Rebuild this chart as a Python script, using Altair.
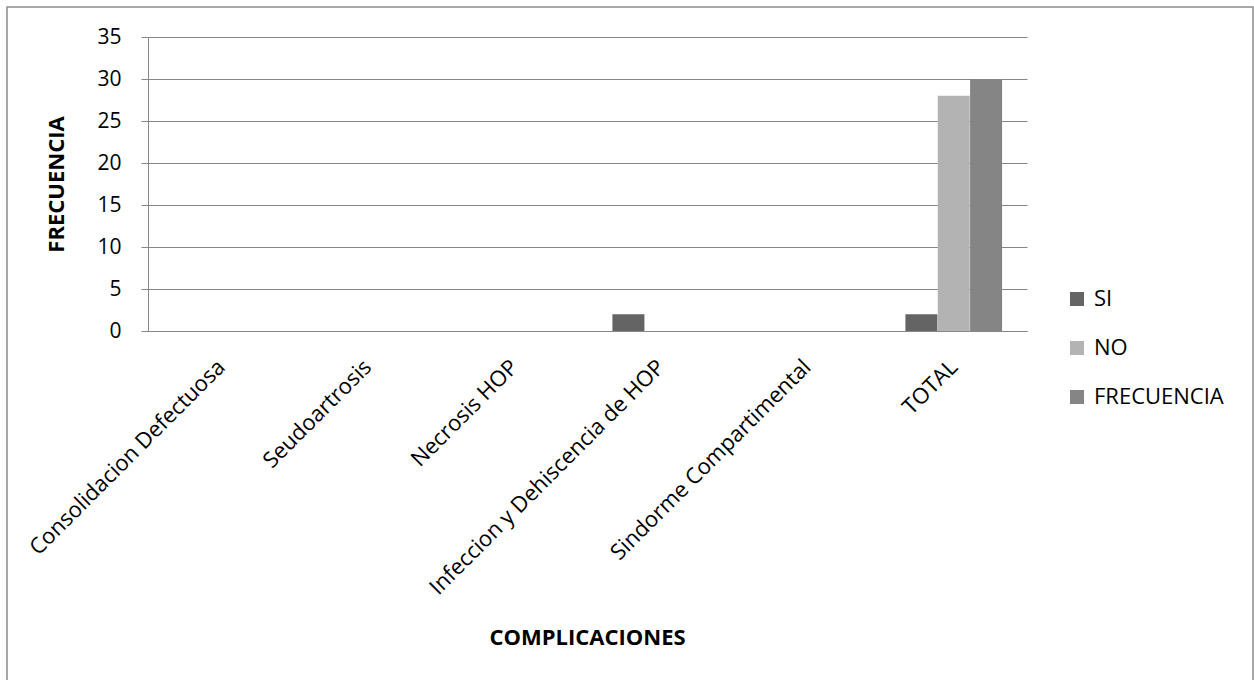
import altair as alt
import pandas as pd

# Complications and the three series shown per complication
categories = [
    "Consolidacion Defectuosa",
    "Seudoartrosis",
    "Necrosis HOP",
    "Infeccion y Dehiscencia de HOP",
    "Sindorme Compartimental",
    "TOTAL",
]
series = ["SI", "NO", "FRECUENCIA"]
si_values = [0, 0, 0, 2, 0, 2]
no_values = [0, 0, 0, 0, 0, 28]
frecuencia_values = [0, 0, 0, 0, 0, 30]
series_colors = ["#646464", "#b3b3b3", "#858585"]
y_ticks = [0, 5, 10, 15, 20, 25, 30, 35]

rows = []
for name, vals in zip(series, [si_values, no_values, frecuencia_values]):
    for cat, v in zip(categories, vals):
        rows.append({"complicacion": cat, "serie": name, "valor": v})
df = pd.DataFrame(rows)

FONT = "Open Sans"
GRID = "#878787"

bars = alt.Chart(df).mark_bar(size=32).encode(
    x=alt.X(
        "complicacion:N",
        sort=categories,
        scale=alt.Scale(paddingInner=0.338, paddingOuter=0.169),
        axis=alt.Axis(
            title="COMPLICACIONES",
            titleFont=FONT,
            titleFontSize=22,
            titleFontWeight="bold",
            titleColor="#000000",
            titleX=439,
            titleY=306,
            titleBaseline="middle",
            titleAlign="center",
            labelAngle=-45,
            labelAlign="right",
            labelBaseline="top",
            labelPadding=25,
            labelOffset=-7,
            labelFont=FONT,
            labelFontSize=22,
            labelColor="#000000",
            labelOverlap=False,
            labelLimit=0,
            ticks=False,
            domainColor=GRID,
            domainWidth=1,
        ),
    ),
    xOffset=alt.XOffset("serie:N", sort=series, scale=alt.Scale(paddingInner=0, paddingOuter=0)),
    y=alt.Y(
        "valor:Q",
        scale=alt.Scale(domain=[0, 35], nice=False),
        axis=alt.Axis(
            values=y_ticks,
            title="FRECUENCIA",
            titleFont=FONT,
            titleFontSize=22,
            titleFontWeight="bold",
            titleColor="#000000",
            titleAngle=270,
            titleX=-92,
            titleY=147,
            titleAlign="center",
            titleBaseline="middle",
            labelFont=FONT,
            labelFontSize=21,
            labelColor="#000000",
            labelPadding=20,
            tickSize=7,
            tickColor=GRID,
            domainColor=GRID,
            grid=True,
            gridColor=GRID,
            gridWidth=1,
        ),
    ),
    color=alt.Color(
        "serie:N",
        sort=series,
        scale=alt.Scale(domain=series, range=series_colors),
        legend=alt.Legend(
            title=None,
            orient="none",
            legendX=918,
            legendY=251,
            symbolType="square",
            symbolSize=196,
            symbolStrokeWidth=0,
            labelFont=FONT,
            labelFontSize=22,
            labelColor="#000000",
            labelOffset=6,
            rowPadding=27,
        ),
    ),
)

# Outer frame around the whole figure
frame = alt.Chart(pd.DataFrame({"k": [0]})).mark_rect(
    fill=None, stroke="#8c8c8c", strokeWidth=1.5
).encode(
    x=alt.value(-141), x2=alt.value(1105), y=alt.value(-30), y2=alt.value(660)
)

chart = alt.layer(frame, bars).properties(
    width=879,
    height=294,
    autosize=alt.AutoSizeParams(type="none"),
    padding={"left": 148, "top": 37, "right": 227, "bottom": 349},
    background="#ffffff",
).configure_view(stroke=None)

chart.save("out.html", embed_options={"renderer": "svg", "actions": False})
